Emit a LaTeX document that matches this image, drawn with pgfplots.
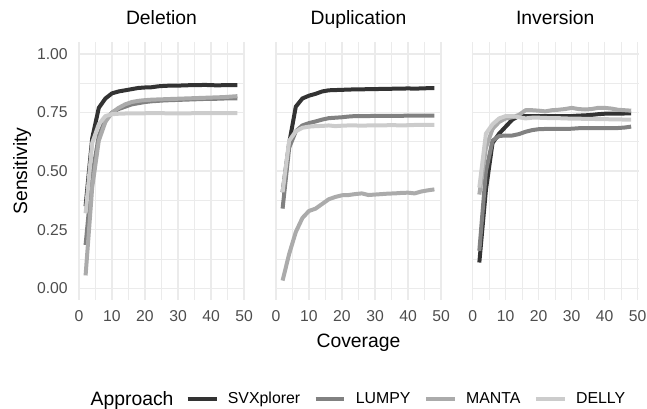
\documentclass[border=0pt]{standalone}
\usepackage{fontspec}
\setmainfont{Liberation Sans}
\usepackage{pgfplots}
\usepackage{pgfplotstable}
\pgfplotsset{compat=1.18}

\definecolor{svx}{HTML}{333333}
\definecolor{lumpy}{HTML}{818181}
\definecolor{manta}{HTML}{ABABAB}
\definecolor{delly}{HTML}{CCCCCC}
\definecolor{gridc}{HTML}{EBEBEB}
\definecolor{tickc}{HTML}{4D4D4D}

% sensitivity vs coverage, one table per SV type
\pgfplotstableread{
x svx lumpy manta delly
2 0.35 0.185 0.055 0.32
4 0.64 0.48 0.43 0.62
6 0.77 0.65 0.63 0.70
8 0.81 0.72 0.71 0.735
10 0.832 0.75 0.75 0.743
12 0.840 0.765 0.77 0.745
14 0.845 0.775 0.785 0.746
16 0.850 0.785 0.795 0.746
18 0.855 0.790 0.800 0.747
20 0.857 0.795 0.803 0.747
22 0.858 0.798 0.805 0.748
24 0.862 0.800 0.806 0.748
26 0.864 0.802 0.807 0.747
28 0.865 0.803 0.808 0.747
30 0.865 0.804 0.809 0.746
32 0.866 0.805 0.810 0.747
34 0.867 0.806 0.811 0.747
36 0.867 0.807 0.812 0.748
38 0.868 0.808 0.813 0.748
40 0.867 0.808 0.814 0.748
42 0.866 0.809 0.815 0.748
44 0.867 0.810 0.816 0.748
46 0.867 0.810 0.818 0.748
48 0.867 0.810 0.820 0.748
}\deltab

\pgfplotstableread{
x svx lumpy manta delly
2 0.41 0.34 0.033 0.41
4 0.62 0.60 0.147 0.63
6 0.775 0.67 0.24 0.67
8 0.81 0.695 0.30 0.685
10 0.822 0.705 0.33 0.69
12 0.830 0.712 0.34 0.692
14 0.840 0.720 0.36 0.693
16 0.845 0.726 0.38 0.695
18 0.846 0.728 0.39 0.692
20 0.847 0.730 0.397 0.694
22 0.848 0.733 0.398 0.695
24 0.849 0.735 0.402 0.695
26 0.849 0.735 0.405 0.694
28 0.850 0.735 0.398 0.695
30 0.850 0.736 0.400 0.695
32 0.851 0.736 0.402 0.695
34 0.851 0.736 0.404 0.696
36 0.852 0.736 0.405 0.696
38 0.852 0.736 0.407 0.695
40 0.853 0.737 0.408 0.696
42 0.852 0.737 0.405 0.697
44 0.853 0.737 0.413 0.697
46 0.854 0.737 0.418 0.697
48 0.854 0.737 0.422 0.697
}\duptab

\pgfplotstableread{
x svx lumpy manta delly
2 0.11 0.16 0.40 0.43
4 0.42 0.50 0.60 0.66
6 0.62 0.63 0.68 0.70
8 0.66 0.65 0.71 0.725
10 0.69 0.652 0.725 0.735
12 0.72 0.652 0.73 0.735
14 0.735 0.658 0.74 0.73
16 0.735 0.668 0.76 0.725
18 0.735 0.675 0.76 0.728
20 0.735 0.679 0.758 0.728
22 0.735 0.680 0.755 0.727
24 0.735 0.680 0.760 0.726
26 0.735 0.680 0.762 0.726
28 0.735 0.680 0.765 0.725
30 0.735 0.681 0.770 0.724
32 0.737 0.683 0.765 0.724
34 0.738 0.684 0.763 0.723
36 0.740 0.684 0.765 0.723
38 0.743 0.684 0.770 0.722
40 0.745 0.684 0.770 0.722
42 0.745 0.684 0.767 0.721
44 0.745 0.684 0.762 0.721
46 0.746 0.686 0.760 0.720
48 0.747 0.690 0.758 0.720
}\invtab

\pgfplotsset{
  panel/.style={
    scale only axis, width=125.25pt, height=193.3pt,
    anchor=north west,
    xmin=-0.3, xmax=50.3, ymin=-0.05, ymax=1.05,
    xtick={0,10,20,30,40,50}, xticklabels={0,10,20,30,40,50},
    ytick={0,0.25,0.5,0.75,1}, yticklabels={},
    minor xtick={5,15,25,35,45}, minor ytick={0.125,0.375,0.625,0.875},
    grid=both,
    major grid style={gridc, line width=1.1pt},
    minor grid style={gridc, line width=0.6pt},
    axis line style={draw=none},
    major tick length=0pt, minor tick length=0pt,
    tick style={draw=none},
    xticklabel style={font=\fontsize{11.8}{14}\selectfont, text=tickc, anchor=north, inner sep=0pt, yshift=-7.5pt},
    yticklabel style={font=\fontsize{11.8}{14}\selectfont, text=tickc, anchor=east, inner sep=0pt, xshift=-7.5pt},
    title style={at={(0.5,1)}, anchor=base, yshift=7.2pt, inner sep=0pt, font=\fontsize{14.5}{17}\selectfont},
    every axis plot/.append style={line width=3pt, line join=round},
  },
}

\begin{document}
\begin{tikzpicture}
\useasboundingbox (0,0) rectangle (485.25pt,-306.75pt);

\begin{axis}[panel, at={(58.5pt,-31.7pt)}, title={Deletion},
  yticklabels={0.00,0.25,0.50,0.75,1.00},
  legend columns=4,
  legend style={at={(0.643,-0.384)}, anchor=west, draw=none, fill=none,
    inner sep=0pt, font=\fontsize{11.9}{14}\selectfont,
    /tikz/every odd column/.append style={column sep=7pt},
    /tikz/every even column/.append style={column sep=10pt},
    nodes={inner sep=0pt}},
  legend image code/.code={\draw[#1, line width=3pt] (0pt,0pt) -- (21.7pt,0pt);},
]
\addplot[svx] table[x=x, y=svx] {\deltab};
\addlegendentry{SVXplorer}
\addplot[lumpy] table[x=x, y=lumpy] {\deltab};
\addlegendentry{LUMPY}
\addplot[manta] table[x=x, y=manta] {\deltab};
\addlegendentry{MANTA}
\addplot[delly] table[x=x, y=delly] {\deltab};
\addlegendentry{DELLY}
\end{axis}

\begin{axis}[panel, at={(206.25pt,-31.7pt)}, title={Duplication}]
\addplot[svx] table[x=x, y=svx] {\duptab};
\addplot[lumpy] table[x=x, y=lumpy] {\duptab};
\addplot[manta] table[x=x, y=manta] {\duptab};
\addplot[delly] table[x=x, y=delly] {\duptab};
\end{axis}

\begin{axis}[panel, at={(353.8pt,-31.7pt)}, title={Inversion}]
\addplot[svx] table[x=x, y=svx] {\invtab};
\addplot[lumpy] table[x=x, y=lumpy] {\invtab};
\addplot[manta] table[x=x, y=manta] {\invtab};
\addplot[delly] table[x=x, y=delly] {\invtab};
\end{axis}

\node[rotate=90, anchor=base, font=\fontsize{14.5}{17}\selectfont] at (20.25pt,-128.25pt) {Sensitivity};
\node[anchor=base, font=\fontsize{14.5}{17}\selectfont] at (268.9pt,-261pt) {Coverage};
\node[anchor=base west, font=\fontsize{14.5}{17}\selectfont] at (64.5pt,-304.1pt) {Approach};
\end{tikzpicture}
\end{document}
